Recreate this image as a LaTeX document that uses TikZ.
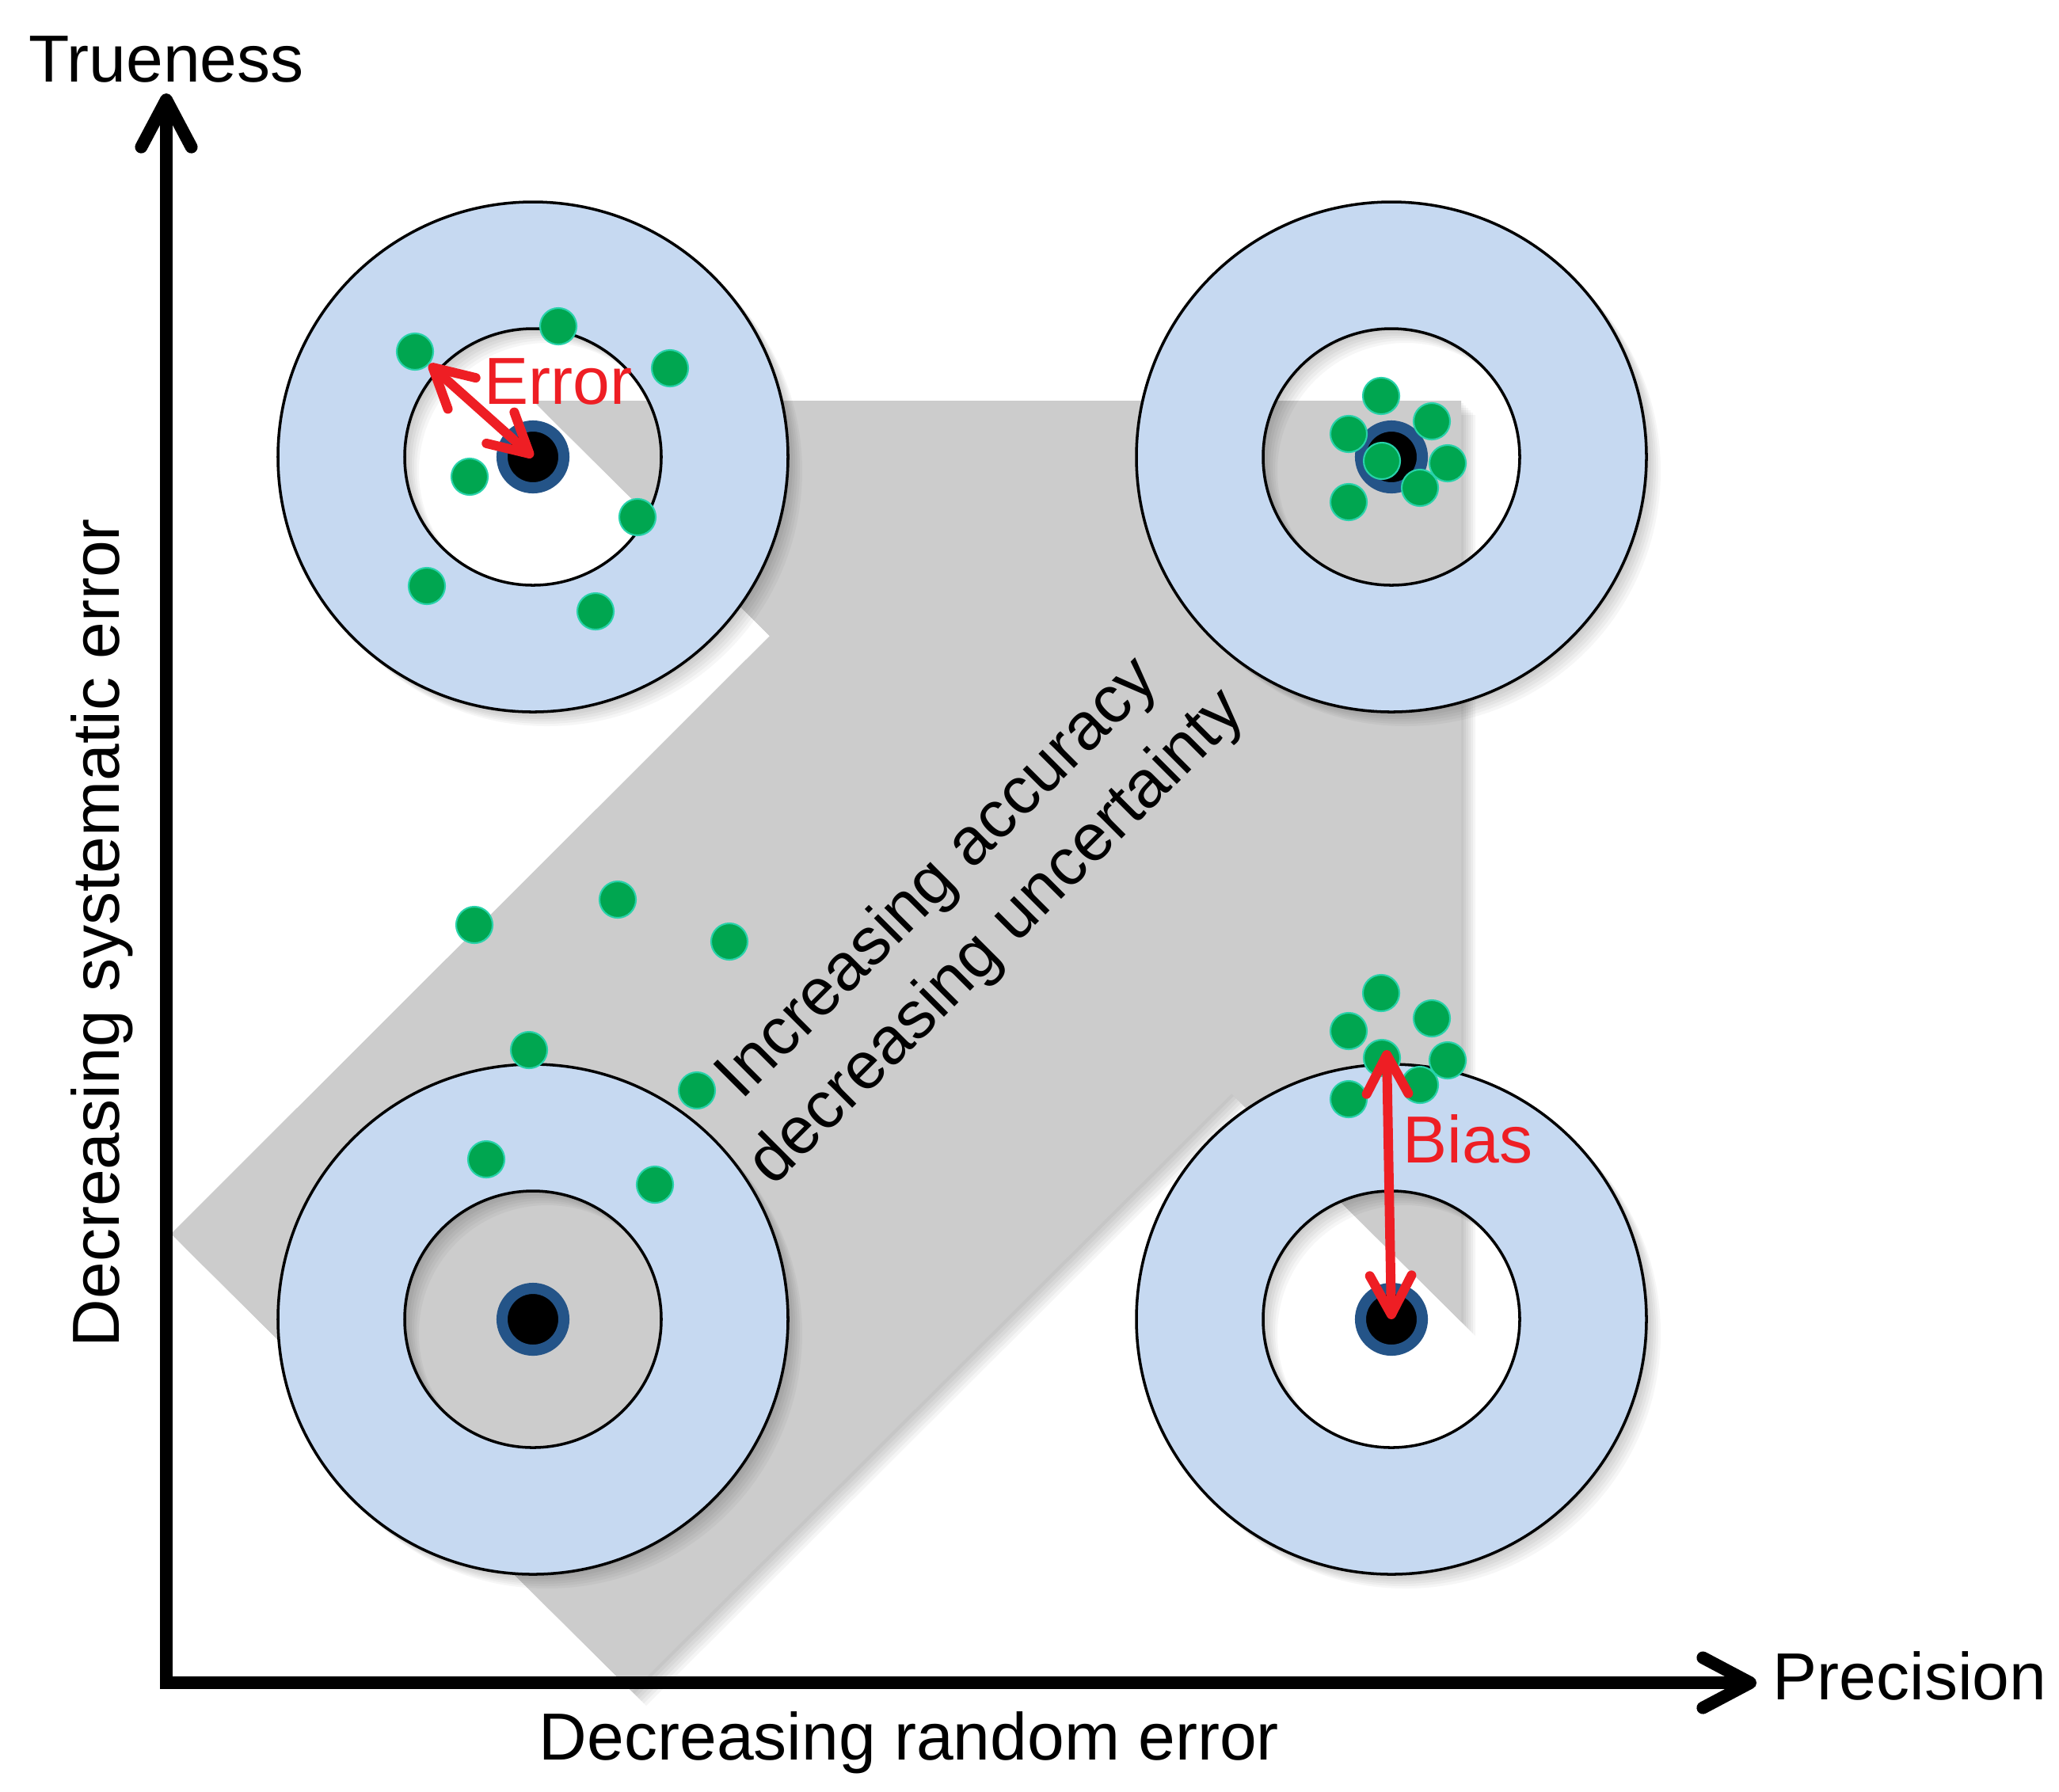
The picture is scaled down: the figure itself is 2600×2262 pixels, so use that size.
\documentclass[tikz,border=0pt]{standalone}
\usepackage{fontspec}
\setmainfont{Liberation Sans}
\usetikzlibrary{arrows.meta}
\definecolor{ringblue}{RGB}{198,217,241}
\definecolor{shapegrey}{RGB}{204,204,204}
\definecolor{eyeblue}{RGB}{36,84,136}
\definecolor{dotgreen}{RGB}{0,166,80}
\definecolor{dotedge}{RGB}{40,210,170}
\definecolor{errred}{RGB}{238,30,36}
\def\greyshapepath{(1845,506) -- (673,506) -- (972,803) -- (216,1558) -- (798,2136) -- (1555,1381) -- (1845,1669) -- cycle}
\newcommand{\drawtarget}[3]{%
  \foreach \s in {3,6,...,18}{\fill[black,opacity=0.035,even odd rule,shift={(\s,\s)}] (#2,#3) circle[radius=322] (#2,#3) circle[radius=162];}
  \fill[ringblue,even odd rule] (#2,#3) circle[radius=322] (#2,#3) circle[radius=162];
  \draw[line width=1pt] (#2,#3) circle[radius=322] (#2,#3) circle[radius=162];
  \node[eye] (#1) at (#2,#3) {};
}
\begin{document}
\begin{tikzpicture}[x=0.01cm,y=-0.01cm,
  dot/.style={circle,fill=dotgreen,draw=dotedge,line width=0.6pt,inner sep=0pt,minimum size=0.46cm},
  eye/.style={circle,fill=black,draw=eyeblue,line width=4pt,inner sep=0pt,minimum size=0.78cm},
  lbl/.style={inner sep=0pt,font=\fontsize{23.9}{30}\selectfont},
  redlbl/.style={lbl,text=errred},
  axis/.style={line width=4.5pt,{Straight Barb[length=17pt,width=18pt,round]}-{Straight Barb[length=17pt,width=18pt,round]}},
  redarrow/.style={errred,line width=3.4pt,{Straight Barb[length=14pt,width=15pt,round]}-{Straight Barb[length=14pt,width=15pt,round]}}
]
\useasboundingbox (0,0) rectangle (2600,2262);
\fill[white] (0,0) rectangle (2600,2262);
% grey arrow with soft shadow
\foreach \s in {3,6,...,18}{\fill[black,opacity=0.04,shift={(\s,\s)}] \greyshapepath;}
\fill[shapegrey] \greyshapepath;
% targets
\drawtarget{tlc}{673}{577}
\drawtarget{trc}{1757}{577}
\drawtarget{blc}{673}{1666}
\drawtarget{brc}{1757}{1666}
% dots top-left
\node[dot] (tl1) at (524,444) {};
\node[dot] (tl2) at (705,412) {};
\node[dot] (tl3) at (846,465) {};
\node[dot] (tl4) at (593,602) {};
\node[dot] (tl5) at (805,653) {};
\node[dot] (tl6) at (539,740) {};
\node[dot] (tl7) at (752,772) {};
% dots bottom-left
\node[dot] (bl1) at (599,1168) {};
\node[dot] (bl2) at (780,1136) {};
\node[dot] (bl3) at (921,1189) {};
\node[dot] (bl4) at (668,1326) {};
\node[dot] (bl5) at (880,1377) {};
\node[dot] (bl6) at (614,1464) {};
\node[dot] (bl7) at (827,1496) {};
% dots top-right
\node[dot] (tr1) at (1744,500) {};
\node[dot] (tr2) at (1808,532) {};
\node[dot] (tr3) at (1703,548) {};
\node[dot] (tr4) at (1828,585) {};
\node[dot] (tr5) at (1745,582) {};
\node[dot] (tr6) at (1793,616) {};
\node[dot] (tr7) at (1703,634) {};
% dots bottom-right
\node[dot] (br1) at (1744,1254) {};
\node[dot] (br2) at (1808,1286) {};
\node[dot] (br3) at (1703,1302) {};
\node[dot] (br4) at (1828,1339) {};
\node[dot] (br5) at (1745,1336) {};
\node[dot] (br6) at (1793,1370) {};
\node[dot] (br7) at (1703,1388) {};
% red arrows
\draw[redarrow] (tl1) -- (tlc.center);
\coordinate (biastop) at (1751,1326);
\draw[redarrow] (biastop) -- (brc.center);
\node[redlbl,anchor=base west] (err) at (611,510) {Error};
\node[redlbl,anchor=base west] (bias) at (1771,1468) {Bias};
% diagonal text
\node[lbl,rotate=45,align=center] (diag) at (1223,1148) {Increasing accuracy\\decreasing uncertainty};
% axes
\coordinate (O) at (210,2125);
\coordinate (ytip) at (210,118);
\coordinate (xtip) at (2218,2125);
\draw[axis] (ytip) -- (O) -- (xtip);
\node[lbl,anchor=base] (true) at (210,103) {Trueness};
\node[lbl,anchor=base west] (prec) at (2238,2146) {Precision};
\node[lbl,anchor=base] (rand) at (1148,2222) {Decreasing random error};
\node[lbl,anchor=base,rotate=90] (sys) at (150,1178) {Decreasing systematic error};
\end{tikzpicture}
\end{document}
